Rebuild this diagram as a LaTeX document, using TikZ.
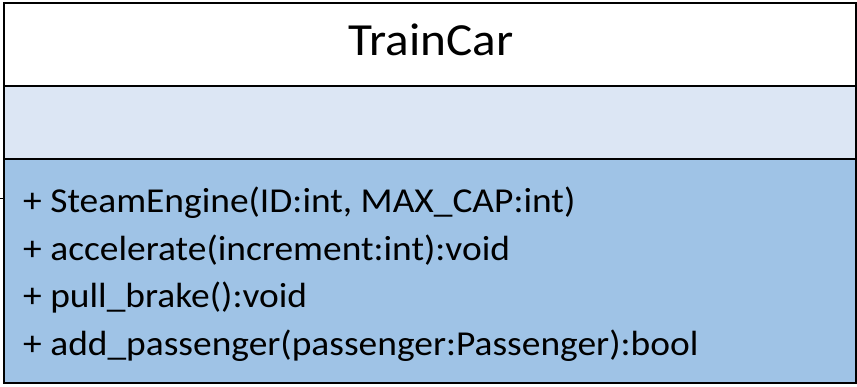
\documentclass[tikz,border=0pt]{standalone}
\usepackage{fontspec}
\setmainfont{Carlito}[FakeStretch=1.07]
\definecolor{attrblue}{HTML}{DCE6F4}
\definecolor{methblue}{HTML}{9FC3E6}
\tikzset{
  sect/.style={draw=black, line width=1.8pt},
  member/.style={anchor=base west, inner sep=0pt, font=\fontsize{35}{42}\selectfont},
  titletext/.style={anchor=base, inner sep=0pt, font=\fontsize{46}{56}\selectfont}
}
\begin{document}
\begin{tikzpicture}[x=1pt,y=-1pt]
\useasboundingbox (0,0) rectangle (857,386);
\fill[white] (0,0) rectangle (857,386);
\fill[attrblue] (4,86) rectangle (856,159);
\fill[methblue] (4,159) rectangle (856,383);
\draw[sect] (4,3) rectangle (856,383);
\draw[sect] (4,86) -- (856,86);
\draw[sect] (4,159) -- (856,159);
\coordinate (stub) at (0,198.5);
\coordinate (edge) at (4,198.5);
\draw[line width=1.2pt] (stub) -- (edge);
\node[titletext] (title) at (431,55.7) {TrainCar};
\node[member] (m1) at (23,212) {+ SteamEngine(ID:int, MAX\_CAP:int)};
\node[member] (m2) at (23,260) {+ accelerate(increment:int):void};
\node[member] (m3) at (23,307.5) {+ pull\_brake():void};
\node[member] (m4) at (23,355) {+ add\_passenger(passenger:Passenger):bool};
\end{tikzpicture}
\end{document}
